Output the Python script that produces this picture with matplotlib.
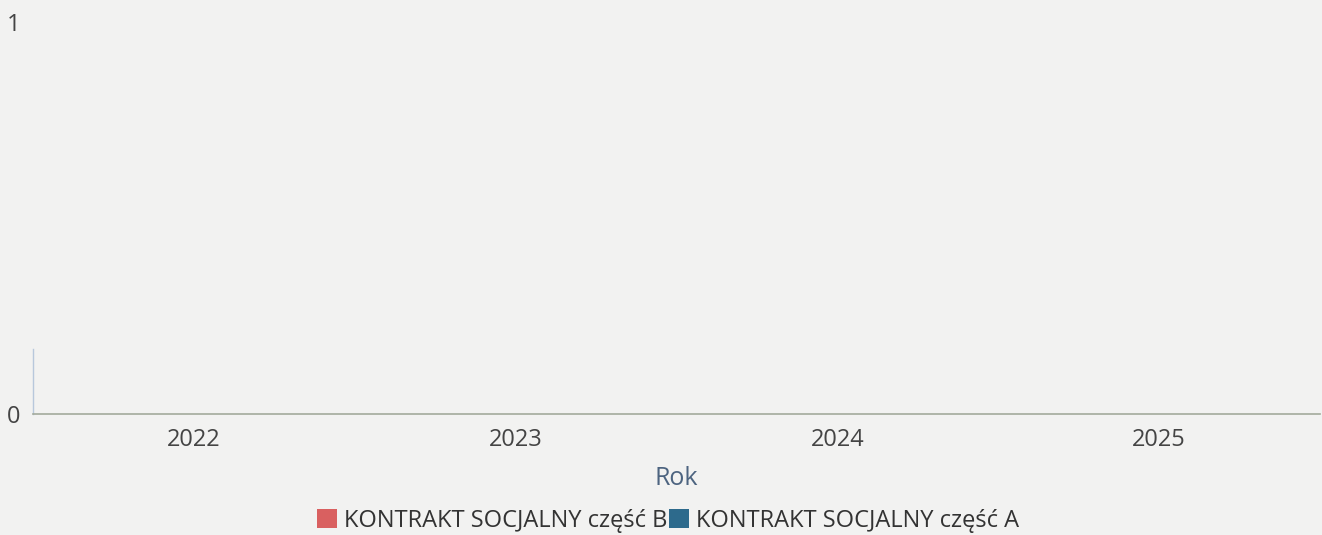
import matplotlib
matplotlib.use("Agg")
import matplotlib.pyplot as plt
import numpy as np
from matplotlib.patches import Patch

years = ["2022", "2023", "2024", "2025"]
series_names = ["KONTRAKT SOCJALNY część B", "KONTRAKT SOCJALNY część A"]
values_b = [0, 0, 0, 0]
values_a = [0, 0, 0, 0]
colors = ["#d96060", "#2d6a8c"]

plt.rcParams['font.family'] = ['Open Sans', 'DejaVu Sans']

bg = "#f2f2f1"
fig = plt.figure(figsize=(13.22, 5.35), dpi=100, facecolor=bg)
ax = fig.add_axes([33/1322, (535-414)/535, (1320-33)/1322, (414-22)/535])
ax.set_facecolor(bg)

x = np.arange(len(years))
ax.bar(x, values_b, width=0.6, color=colors[0])
ax.bar(x, values_a, width=0.6, bottom=values_b, color=colors[1])

ax.set_xlim(-0.5, len(years) - 0.5)
ax.set_ylim(0, 1)
ax.set_xticks(x)
ax.set_xticklabels(years)
ax.set_yticks([0, 1])
ax.tick_params(axis='both', length=0, labelsize=17, colors="#444444")
ax.tick_params(axis='x', pad=10)
ax.tick_params(axis='y', pad=9)
for lbl in ax.get_yticklabels():
    lbl.set_verticalalignment('center_baseline')

for s in ["top", "right"]:
    ax.spines[s].set_visible(False)
ax.spines["bottom"].set_color("#a3aa9c")
ax.spines["bottom"].set_linewidth(1.2)
ax.spines["left"].set_color("#b8c8dc")
ax.spines["left"].set_linewidth(1.0)
ax.spines["left"].set_bounds(0, 0.165)

ax.set_xlabel("Rok", fontsize=18, color="#4d6480", labelpad=10)

handles = [Patch(facecolor=colors[0], edgecolor="none"),
           Patch(facecolor=colors[1], edgecolor="none")]
fig.legend(handles, series_names, loc="center", bbox_to_anchor=(668/1322, 1 - 521/535),
           ncol=2, frameon=False, fontsize=17, handlelength=0.85, handleheight=0.85,
           handletextpad=0.3, columnspacing=0.05, labelcolor="#333333")

fig.savefig("out.png", dpi=100, facecolor=bg)
